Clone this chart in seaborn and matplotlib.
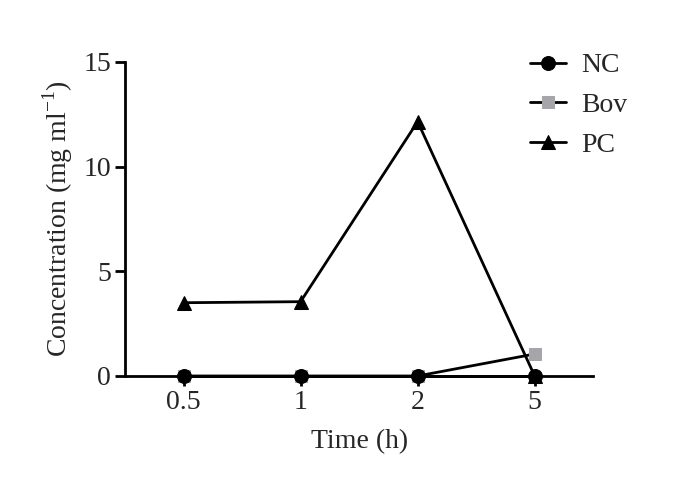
import matplotlib
matplotlib.use("Agg")
import matplotlib.pyplot as plt
import seaborn as sns
import pandas as pd

times = ["0.5", "1", "2", "5"]
nc = [0.0, 0.0, 0.0, 0.0]
bov = [0.0, 0.0, 0.0, 1.05]
pc = [3.5, 3.55, 12.15, 0.0]

sns.set_style("ticks")
plt.rcParams['font.family'] = ['Liberation Serif', 'DejaVu Serif']
plt.rcParams['mathtext.fontset'] = 'custom'
plt.rcParams['mathtext.rm'] = 'Liberation Serif'

FS = 20
fig = plt.figure(figsize=(6.85, 4.94), dpi=100)
ax = fig.add_axes([0.1825, 0.2389, 0.6835, 0.6356])

df = pd.DataFrame({"Time": times, "NC": nc, "Bov": bov, "PC": pc})

sns.lineplot(data=df, x="Time", y="PC", ax=ax, color="black", lw=2,
             marker="^", markersize=10, markerfacecolor="black",
             markeredgecolor="black", label="PC", zorder=2, sort=False)
sns.lineplot(data=df, x="Time", y="Bov", ax=ax, color="black", lw=2,
             marker="s", markersize=9, markerfacecolor="#a6a6aa",
             markeredgecolor="#a6a6aa", label="Bov", zorder=3, sort=False)
sns.lineplot(data=df, x="Time", y="NC", ax=ax, color="black", lw=2,
             marker="o", markersize=10, markerfacecolor="black",
             markeredgecolor="black", label="NC", zorder=4, sort=False)

ax.set_xlim(-0.5, 3.5)
ax.set_ylim(0, 15)
ax.set_yticks([0, 5, 10, 15])
for s in ["top", "right"]:
    ax.spines[s].set_visible(False)
for s in ["left", "bottom"]:
    ax.spines[s].set_linewidth(2)
    ax.spines[s].set_color("black")
ax.tick_params(axis="both", width=2, length=7, labelsize=FS, color="black", pad=3)
ax.set_xlabel("Time (h)", fontsize=FS, labelpad=10)
ax.set_ylabel(r"Concentration (mg ml$^{\mathregular{-1}}$)", fontsize=FS, labelpad=6)

h, l = ax.get_legend_handles_labels()
order = [l.index("NC"), l.index("Bov"), l.index("PC")]
leg = ax.legend([h[i] for i in order], [l[i] for i in order],
                loc="upper left", bbox_to_anchor=(0.774, 0.893),
                bbox_transform=fig.transFigure, frameon=False, fontsize=FS,
                handlelength=1.3, labelspacing=0.52, handletextpad=0.55,
                borderpad=0, borderaxespad=0)
for c in ax.get_children():
    if isinstance(c, matplotlib.lines.Line2D):
        c.set_clip_on(False)

fig.savefig("out.png", dpi=100)
